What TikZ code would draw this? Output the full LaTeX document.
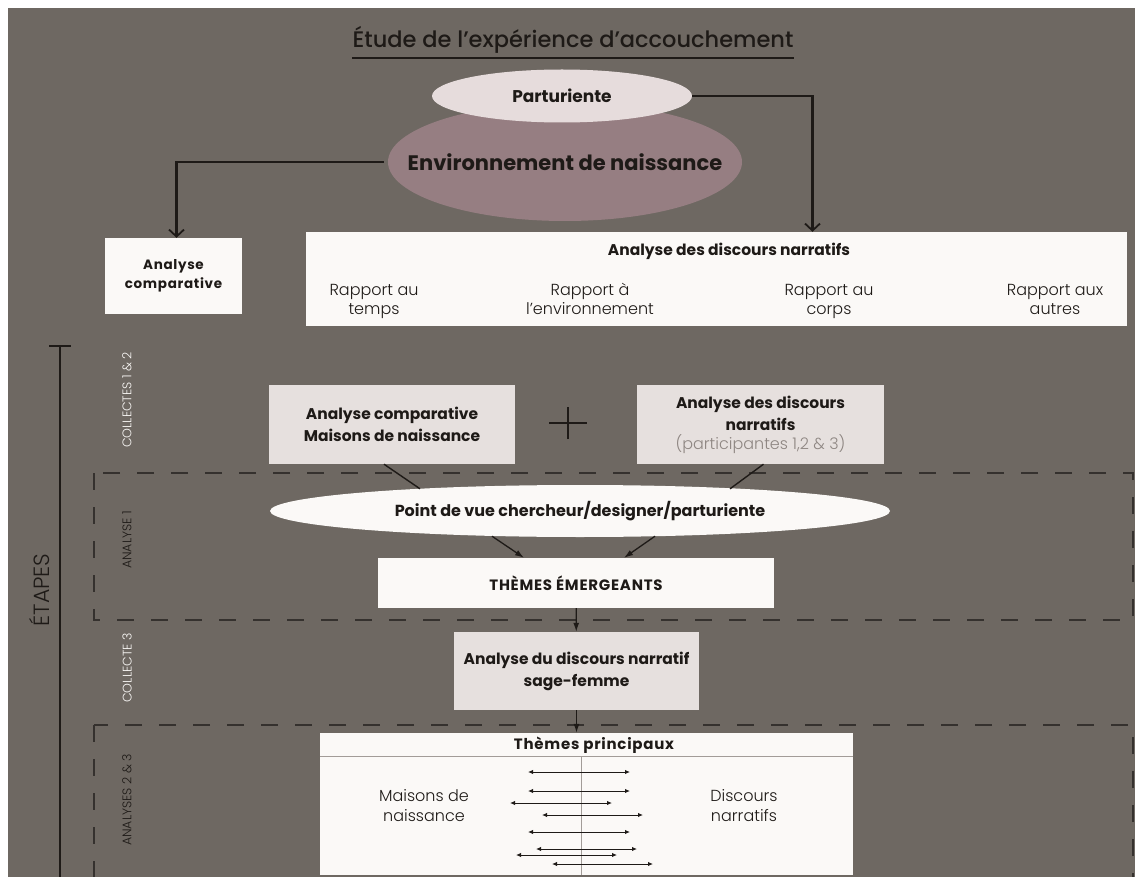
\documentclass[tikz,border=0pt]{standalone}
\usepackage{fontspec}
\setmainfont{Poppins}
\newfontfamily\lightfont{Poppins Light}
\newfontfamily\medfont{Poppins Medium}
\newfontfamily\spacedfont{Poppins}[LetterSpace=5]
\usetikzlibrary{arrows.meta,positioning,shapes.geometric}
\definecolor{slate}{HTML}{6E6862}
\definecolor{ink}{HTML}{1E1A17}
\definecolor{paper}{HTML}{FBF9F7}
\definecolor{pale}{HTML}{E6E0DE}
\definecolor{blush}{HTML}{E6DCDC}
\definecolor{mauve}{HTML}{967E82}
\definecolor{muted}{HTML}{8E8682}
\definecolor{rulegray}{HTML}{A29C98}

\begin{document}
\begin{tikzpicture}[x=1pt, y=-1pt,
  font=\fontsize{15.5}{22}\selectfont, text=ink,
  box/.style={align=center, inner sep=0pt, font=\bfseries\fontsize{15.5}{22}\selectfont},
  whitebox/.style={box, fill=paper},
  palebox/.style={box, fill=pale},
  oval/.style={ellipse, inner sep=0pt, font=\bfseries\fontsize{16}{21}\selectfont},
  thin/.style={font=\lightfont\fontsize{16}{20}\selectfont, align=center, inner sep=0pt},
  side/.style={font=\lightfont\fontsize{12.5}{14}\selectfont, rotate=90, inner sep=0pt},
  link/.style={draw=ink, line width=2.2pt, -{Straight Barb[length=7pt,width=15pt,line width=1.8pt]}},
  flow/.style={draw=ink, line width=1.3pt, -{Latex[length=9pt,width=6pt]}},
  feed/.style={draw=ink, line width=1.4pt},
  band/.style={draw=ink!90, line width=1.8pt, dash pattern=on 17pt off 17pt},
  both/.style={draw=ink, line width=1pt, {Latex[length=5pt,width=4.5pt]}-{Latex[length=5pt,width=4.5pt]}}
]
  \fill[white] (0,0) rectangle (1135,877);
  \useasboundingbox (0,0) rectangle (1135,877);
  \fill[slate] (8,8) rectangle (1135,877);

  % titre
  \node[font=\medfont\fontsize{22.5}{26}\selectfont, inner sep=0pt] (title) at (573,40) {Étude de l’expérience d’accouchement};
  \draw[ink, line width=1.6pt] ([yshift=-4pt]title.south west) -- ([yshift=-4pt]title.south east);

  \node[oval, fill=mauve, minimum width=354pt, minimum height=118pt] (env) at (565,162) {};
  \node[box, font=\bfseries\fontsize{21}{24}\selectfont] (envtext) at (env.center) {Environnement de naissance};
  \node[oval, fill=blush, minimum width=260pt, minimum height=53pt, font=\bfseries\fontsize{17}{20}\selectfont] (part) at (562,96) {Parturiente};

  \node[whitebox, minimum width=137pt, minimum height=76pt, font=\spacedfont\bfseries\fontsize{13.5}{19}\selectfont] (compar) at (173.5,276) {Analyse\\comparative};
  \node[whitebox, minimum width=821pt, minimum height=94pt] (discours) at (716.5,279) {};
  \node[box, font=\bfseries\fontsize{15.5}{18}\selectfont] (disctitle) at (729,251) {Analyse des discours narratifs};
  \foreach \x/\t [count=\i] in {374/{Rapport au\\temps}, 590/{Rapport à\\l’environnement}, 829/{Rapport au\\corps}, 1055/{Rapport aux\\autres}}
    \node[thin, anchor=base] (rapport\i) at (\x,315) {\t};

  \draw[link] (part.east) -| ([xshift=96pt]discours.north);
  \draw[link] ([xshift=-4pt]env.west) -| ([xshift=3pt]compar.north);

  % etapes
  \coordinate (etop) at (60,346);
  \draw[ink, line width=2.4pt] (etop) -- ++(0,540);
  \draw[ink, line width=2.4pt] ([xshift=-11pt]etop) -- ([xshift=11pt]etop);
  \node[rotate=90, font=\lightfont\fontsize{22}{24}\selectfont, inner sep=0pt] (etapes) at (40,590) {ÉTAPES};

  \draw[band] (94,473) rectangle (1133,620);
  \draw[band] (94,725) rectangle (1133,900);

  \node[side, text=paper] (collecte12) at (127,400) {COLLECTES 1 \& 2};
  \node[side] (analyse1) at (127,540) {ANALYSE 1};
  \node[side, text=paper] (collecte3) at (127,668) {COLLECTE 3};
  \node[side] (analyse23) at (127,800) {ANALYSES 2 \& 3};

  \node[palebox, minimum width=246pt, minimum height=79pt] (comp2) at (392,424.5) {Analyse comparative\\Maisons de naissance};
  \node[palebox, minimum width=247pt, minimum height=79pt] (disc2) at (760.5,424.5) {Analyse des discours\\narratifs\\[-3pt]{\lightfont\mdseries\fontsize{16}{20}\selectfont\color{muted}(participantes 1,2 \& 3)}};
  \coordinate (plus) at (568,423);
  \draw[ink, line width=1.3pt] ([xshift=-19pt]plus) -- ([xshift=19pt]plus);
  \draw[ink, line width=1.3pt] ([yshift=-16pt]plus) -- ([yshift=16pt]plus);

  \node[oval, fill=paper, minimum width=620pt, minimum height=52pt] (pdv) at (580,511) {Point de vue chercheur/designer/parturiente};
  \draw[feed] ([xshift=-8pt]comp2.south) -- ([xshift=-160pt,yshift=-4pt]pdv.north);
  \draw[feed] ([xshift=3pt]disc2.south) -- ([xshift=150pt,yshift=-4pt]pdv.north);

  \node[whitebox, minimum width=396pt, minimum height=50pt, font=\spacedfont\bfseries\fontsize{15}{20}\selectfont] (themes) at (576,583) {THÈMES ÉMERGEANTS};
  \draw[flow] ([xshift=-88pt,yshift=1pt]pdv.south) -- ([xshift=-52pt]themes.north);
  \draw[flow] ([xshift=75pt,yshift=1pt]pdv.south) -- ([xshift=48pt]themes.north);

  \node[palebox, minimum width=245pt, minimum height=78pt] (sagef) at (576.5,671) {Analyse du discours narratif\\sage-femme};
  \draw[flow] (themes) -- (sagef);

  \node[whitebox, minimum width=533pt, minimum height=142pt] (princ) at (586.5,804) {};
  \node[box, font=\spacedfont\bfseries\fontsize{15}{20}\selectfont] (princtitle) at (594,745) {Thèmes principaux};
  \draw[flow] (sagef.south) -- (sagef.south |- princ.north);
  \draw[rulegray, line width=.8pt] ([yshift=-24pt]princ.north west) -- ([yshift=-24pt]princ.north east);
  \draw[rulegray, line width=.8pt] (581,757) -- (581,875);
  \node[thin] (maisons) at (424,806) {Maisons de\\naissance};
  \node[thin] (narratifs) at (744,806) {Discours\\narratifs};
  \foreach \a/\b/\y in {528/630/772, 528/630/791, 510/612/803, 542/643/815, 528/630/832, 536/637/849, 516/617/855, 552/653/864}
    \draw[both] (\a,\y) -- (\b,\y);
\end{tikzpicture}
\end{document}
